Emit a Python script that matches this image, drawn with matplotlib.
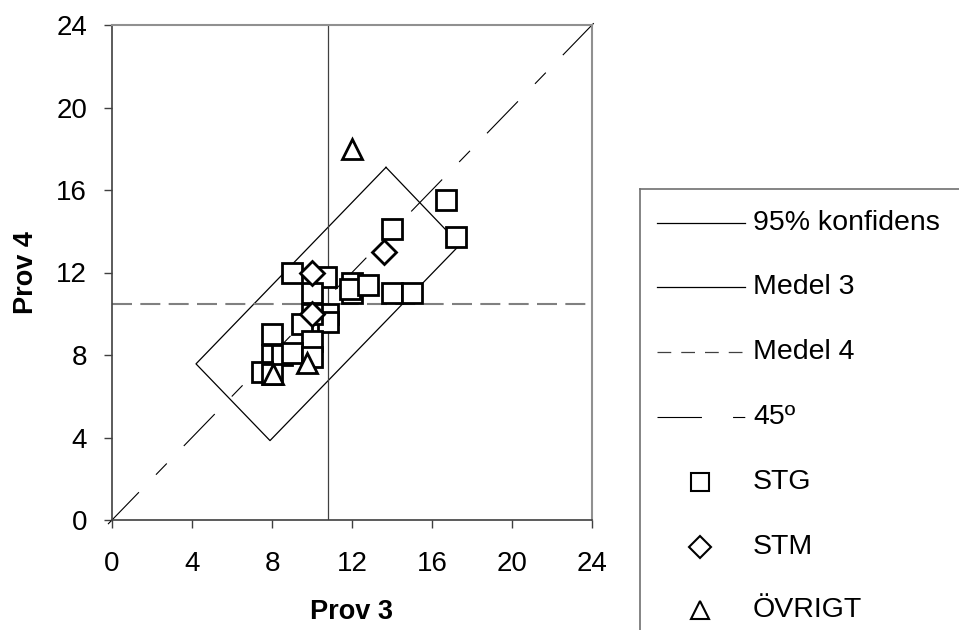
import matplotlib
matplotlib.use("Agg")
import matplotlib.pyplot as plt

plt.rcParams['font.family'] = ['Liberation Sans', 'DejaVu Sans']

# STG (squares)
stg_x = [9.0, 10.7, 10.0, 12.0, 12.0, 11.9, 12.8, 14.0, 15.0, 14.0, 16.7, 17.2,
         10.8, 10.8, 10.0, 9.5, 8.0, 10.0, 8.0, 8.5, 9.0, 10.0, 7.5, 8.0]
stg_y = [12.0, 11.8, 11.0, 11.5, 11.0, 11.2, 11.4, 11.0, 11.0, 14.1, 15.5, 13.7,
         10.0, 9.6, 10.0, 9.5, 9.0, 8.7, 8.0, 8.0, 8.1, 7.9, 7.2, 7.1]
# STM (diamonds)
stm_x = [10.0, 10.0, 13.6]
stm_y = [12.0, 10.0, 13.0]
# ÖVRIGT (triangles)
ovr_x = [12.0, 9.75, 8.05]
ovr_y = [18.0, 7.6, 7.1]

medel3 = 10.8
medel4 = 10.45
# corners of the 95% confidence box
konf_x = [13.7, 17.4, 7.9, 4.2, 13.7]
konf_y = [17.1, 13.35, 3.85, 7.57, 17.1]
diag = [-0.2, 24.4]

ticks = [0, 4, 8, 12, 16, 20, 24]

fig = plt.figure(figsize=(9.59, 6.30), dpi=100)
ax = fig.add_axes([112/959, 1-520/630, 480/959, 495/630])

ax.plot(konf_x, konf_y, color='black', lw=0.9, zorder=2)
ax.plot([medel3, medel3], [0, 24], color='#404040', lw=0.9, zorder=2)
ax.axhline(medel4, color='#808080', lw=1.5, ls=(0, (9.6, 4.0)), zorder=2)
ax.plot(diag, diag, color='black', lw=0.8, ls=(0, (40, 22, 14, 22)),
        clip_on=False, zorder=2)

mk = dict(ls='none', mfc='white', mec='black', mew=2.0, zorder=3)
ax.plot(stg_x, stg_y, marker='s', ms=14.4, **mk)
ax.plot(stm_x, stm_y, marker='D', ms=12.5, **mk)
ax.plot(ovr_x, ovr_y, marker='^', ms=14.4, **mk)

ax.set_xlim(0, 24)
ax.set_ylim(0, 24)
ax.set_xticks(ticks)
ax.set_yticks(ticks)
ax.tick_params(labelsize=20, length=6, width=1, color='#404040')
ax.tick_params(axis='x', pad=16)
ax.tick_params(axis='y', pad=12)
for s in ['left', 'bottom']:
    ax.spines[s].set_color('#404040')
    ax.spines[s].set_linewidth(1.2)
for s in ['top', 'right']:
    ax.spines[s].set_color('#909090')
    ax.spines[s].set_linewidth(1.5)
ax.set_xlabel('Prov 3', fontsize=19.5, fontweight='bold', labelpad=16)
ax.set_ylabel('Prov 4', fontsize=19.5, fontweight='bold', labelpad=12)

# legend box drawn in its own axes
lg = fig.add_axes([640/959, -0.2, 0.5, 1-189/630+0.2])
lg.set_xlim(640, 640 + 0.5*959)
lg.set_ylim(630 + 0.2*630, 189)
lg.set_xticks([])
lg.set_yticks([])
for s in lg.spines.values():
    s.set_color('#707070')
    s.set_linewidth(1.2)

rows = [223, 287, 352, 417, 482, 547, 610]
labels = ['95% konfidens', 'Medel 3', 'Medel 4', '45º', 'STG', 'STM', 'ÖVRIGT']
lg.plot([657, 745], [rows[0]]*2, color='black', lw=0.9)
lg.plot([657, 745], [rows[1]]*2, color='black', lw=0.9)
lg.plot([657, 745], [rows[2]]*2, color='#404040', lw=0.9, ls=(0, (11, 8)))
lg.plot([657, 745], [rows[3]]*2, color='black', lw=0.8, ls=(0, (40, 28, 11, 30)))
lmk = dict(ls='none', mfc='white', mec='black', mew=1.5)
lg.plot([700], [rows[4]], marker='s', ms=13, **lmk)
lg.plot([700], [rows[5]], marker='D', ms=11.5, **lmk)
lg.plot([700], [rows[6]], marker='^', ms=13, **lmk)
for r, t in zip(rows, labels):
    lg.text(753, r, t, fontsize=20.5, va='center', ha='left')

fig.savefig('out.png', dpi=100)
